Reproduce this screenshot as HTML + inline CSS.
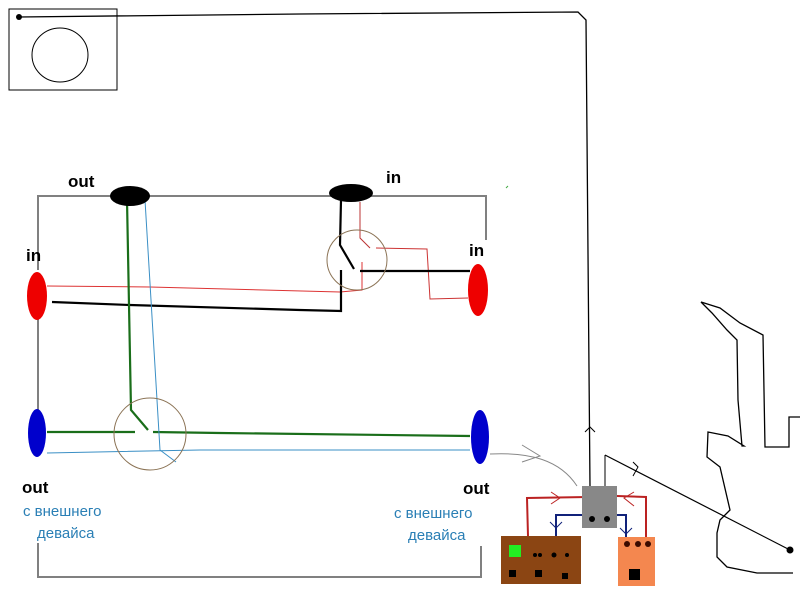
<!DOCTYPE html>
<html><head><meta charset="utf-8"><style>
html,body{margin:0;padding:0;background:#fff;width:800px;height:600px;overflow:hidden}
svg{display:block}
.b{font-family:"Liberation Sans",sans-serif;font-weight:bold;font-size:17px;fill:#000}
.c{font-family:"Liberation Sans","DejaVu Sans",sans-serif;font-size:15px;fill:#2a7fb5}
</style></head><body>
<svg width="800" height="600" viewBox="0 0 800 600" xmlns="http://www.w3.org/2000/svg">
<!-- top-left box -->
<rect x="9" y="9" width="108" height="81" fill="none" stroke="#000" stroke-width="1"/>
<ellipse cx="60" cy="55" rx="28" ry="27" fill="none" stroke="#000"/>
<circle cx="19" cy="17" r="3" fill="#000"/>
<polyline points="19,17 300,14 578,12 586,20 590,487" fill="none" stroke="#000" stroke-width="1.3"/>
<polyline points="585,432 590,427 595,432" fill="none" stroke="#000"/>
<!-- gray frame -->
<polyline points="38,270 38,196 486,196 486,240" fill="none" stroke="#808080" stroke-width="2"/>
<line x1="38" y1="318" x2="38" y2="410" stroke="#808080" stroke-width="2"/>
<polyline points="38,543 38,577 481,577 481,546" fill="none" stroke="#808080" stroke-width="2"/>
<!-- wires -->
<polyline points="47,286 150,287 340,292 362,290 362,262" fill="none" stroke="#d33" stroke-width="1"/>
<polyline points="360,202 360,238 370,248" fill="none" stroke="#b33" stroke-width="1"/>
<polyline points="376,248 427,249 430,299 468,298" fill="none" stroke="#c33" stroke-width="1"/>
<polyline points="52,302 130,305 300,310 341,311 341,270" fill="none" stroke="#000" stroke-width="2.2"/>
<polyline points="341,200 340,245 354,269" fill="none" stroke="#000" stroke-width="2.2"/>
<line x1="360" y1="271" x2="470" y2="271" stroke="#000" stroke-width="2.2"/>
<polyline points="127,200 131,410 148,430" fill="none" stroke="#1a6e1a" stroke-width="2.2"/>
<line x1="47" y1="432" x2="135" y2="432" stroke="#1a6e1a" stroke-width="2.2"/>
<polyline points="153,432 220,433 470,436" fill="none" stroke="#1a6e1a" stroke-width="2.2"/>
<polyline points="145,200 160,450 176,462" fill="none" stroke="#3a8fc5" stroke-width="1"/>
<polyline points="47,453 200,450 470,450" fill="none" stroke="#3a8fc5" stroke-width="1"/>
<circle cx="150" cy="434" r="36" fill="none" stroke="#8b7355" stroke-width="1"/>
<circle cx="357" cy="260" r="30" fill="none" stroke="#8b7355" stroke-width="1"/>
<!-- jacks -->
<ellipse cx="37" cy="296" rx="10" ry="24" fill="#e00"/>
<ellipse cx="37" cy="433" rx="9" ry="24" fill="#00c"/>
<ellipse cx="478" cy="290" rx="10" ry="26" fill="#e00"/>
<ellipse cx="480" cy="437" rx="9" ry="27" fill="#00c"/>
<ellipse cx="130" cy="196" rx="20" ry="10" fill="#000"/>
<ellipse cx="351" cy="193" rx="22" ry="9" fill="#000"/>
<!-- labels -->
<text class="b" x="68" y="187">out</text>
<text class="b" x="386" y="183">in</text>
<text class="b" x="26" y="261">in</text>
<text class="b" x="469" y="256">in</text>
<text class="b" x="22" y="493">out</text>
<text class="b" x="463" y="494">out</text>
<text class="c" x="23" y="516">с внешнего</text>
<text class="c" x="37" y="538">девайса</text>
<text class="c" x="394" y="518">с внешнего</text>
<text class="c" x="408" y="540">девайса</text>
<!-- gray curve -->
<path d="M490,454 C530,452 560,460 577,486" fill="none" stroke="#888" stroke-width="1"/>
<polyline points="522,445 540,456 522,462" fill="none" stroke="#888"/>
<!-- pedals -->
<polyline points="528,536 527,498 588,497" fill="none" stroke="#b22" stroke-width="2"/>
<polyline points="551,492 560,498 551,504" fill="none" stroke="#b22"/>
<polyline points="617,496 646,497 646,537" fill="none" stroke="#b22" stroke-width="2"/>
<polyline points="634,492 624,498 634,506" fill="none" stroke="#b22"/>
<polyline points="556,536 556,515 582,515" fill="none" stroke="#11227a" stroke-width="2"/>
<polyline points="550,522 556,528 562,522" fill="none" stroke="#11227a"/>
<polyline points="617,515 626,515 626,537" fill="none" stroke="#11227a" stroke-width="2"/>
<polyline points="620,528 626,534 632,528" fill="none" stroke="#11227a"/>
<rect x="582" y="486" width="35" height="42" fill="#888"/>
<circle cx="592" cy="519" r="3" fill="#000"/><circle cx="607" cy="519" r="3" fill="#000"/>
<line x1="605" y1="486" x2="605" y2="455" stroke="#000"/>
<rect x="501" y="536" width="80" height="48" fill="#8b4513"/>
<rect x="509" y="545" width="12" height="12" fill="#2e2"/>
<circle cx="535" cy="555" r="2" fill="#000"/><circle cx="540" cy="555" r="2" fill="#000"/><circle cx="554" cy="555" r="2.5" fill="#000"/><circle cx="567" cy="555" r="2" fill="#000"/>
<rect x="509" y="570" width="7" height="7" fill="#000"/><rect x="535" y="570" width="7" height="7" fill="#000"/><rect x="562" y="573" width="6" height="6" fill="#000"/>
<rect x="618" y="537" width="37" height="49" fill="#f4874f"/>
<circle cx="627" cy="544" r="3" fill="#3a0a00"/><circle cx="638" cy="544" r="3" fill="#3a0a00"/><circle cx="648" cy="544" r="3" fill="#3a0a00"/>
<rect x="629" y="569" width="11" height="11" fill="#000"/>
<!-- guitar -->
<polyline points="605,455 790,550" fill="none" stroke="#000" stroke-width="1.2"/>
<circle cx="790" cy="550" r="3.5" fill="#000"/>
<polyline points="633,462 638,467 633,476" fill="none" stroke="#000"/>
<polyline points="701,302 720,308 740,323 763,335 765,447 789,447 789,417 800,417" fill="none" stroke="#000" stroke-width="1.3"/>
<polyline points="701,302 712,313 727,330 737,340 738,400 742,446 744,446 728,436 708,432 707,457 720,467 730,510 720,520 717,533 717,557 727,567 757,573 793,573" fill="none" stroke="#000" stroke-width="1.3"/>
<line x1="506" y1="188" x2="508" y2="186" stroke="#4a4" stroke-width="1"/>
</svg>
</body></html>
